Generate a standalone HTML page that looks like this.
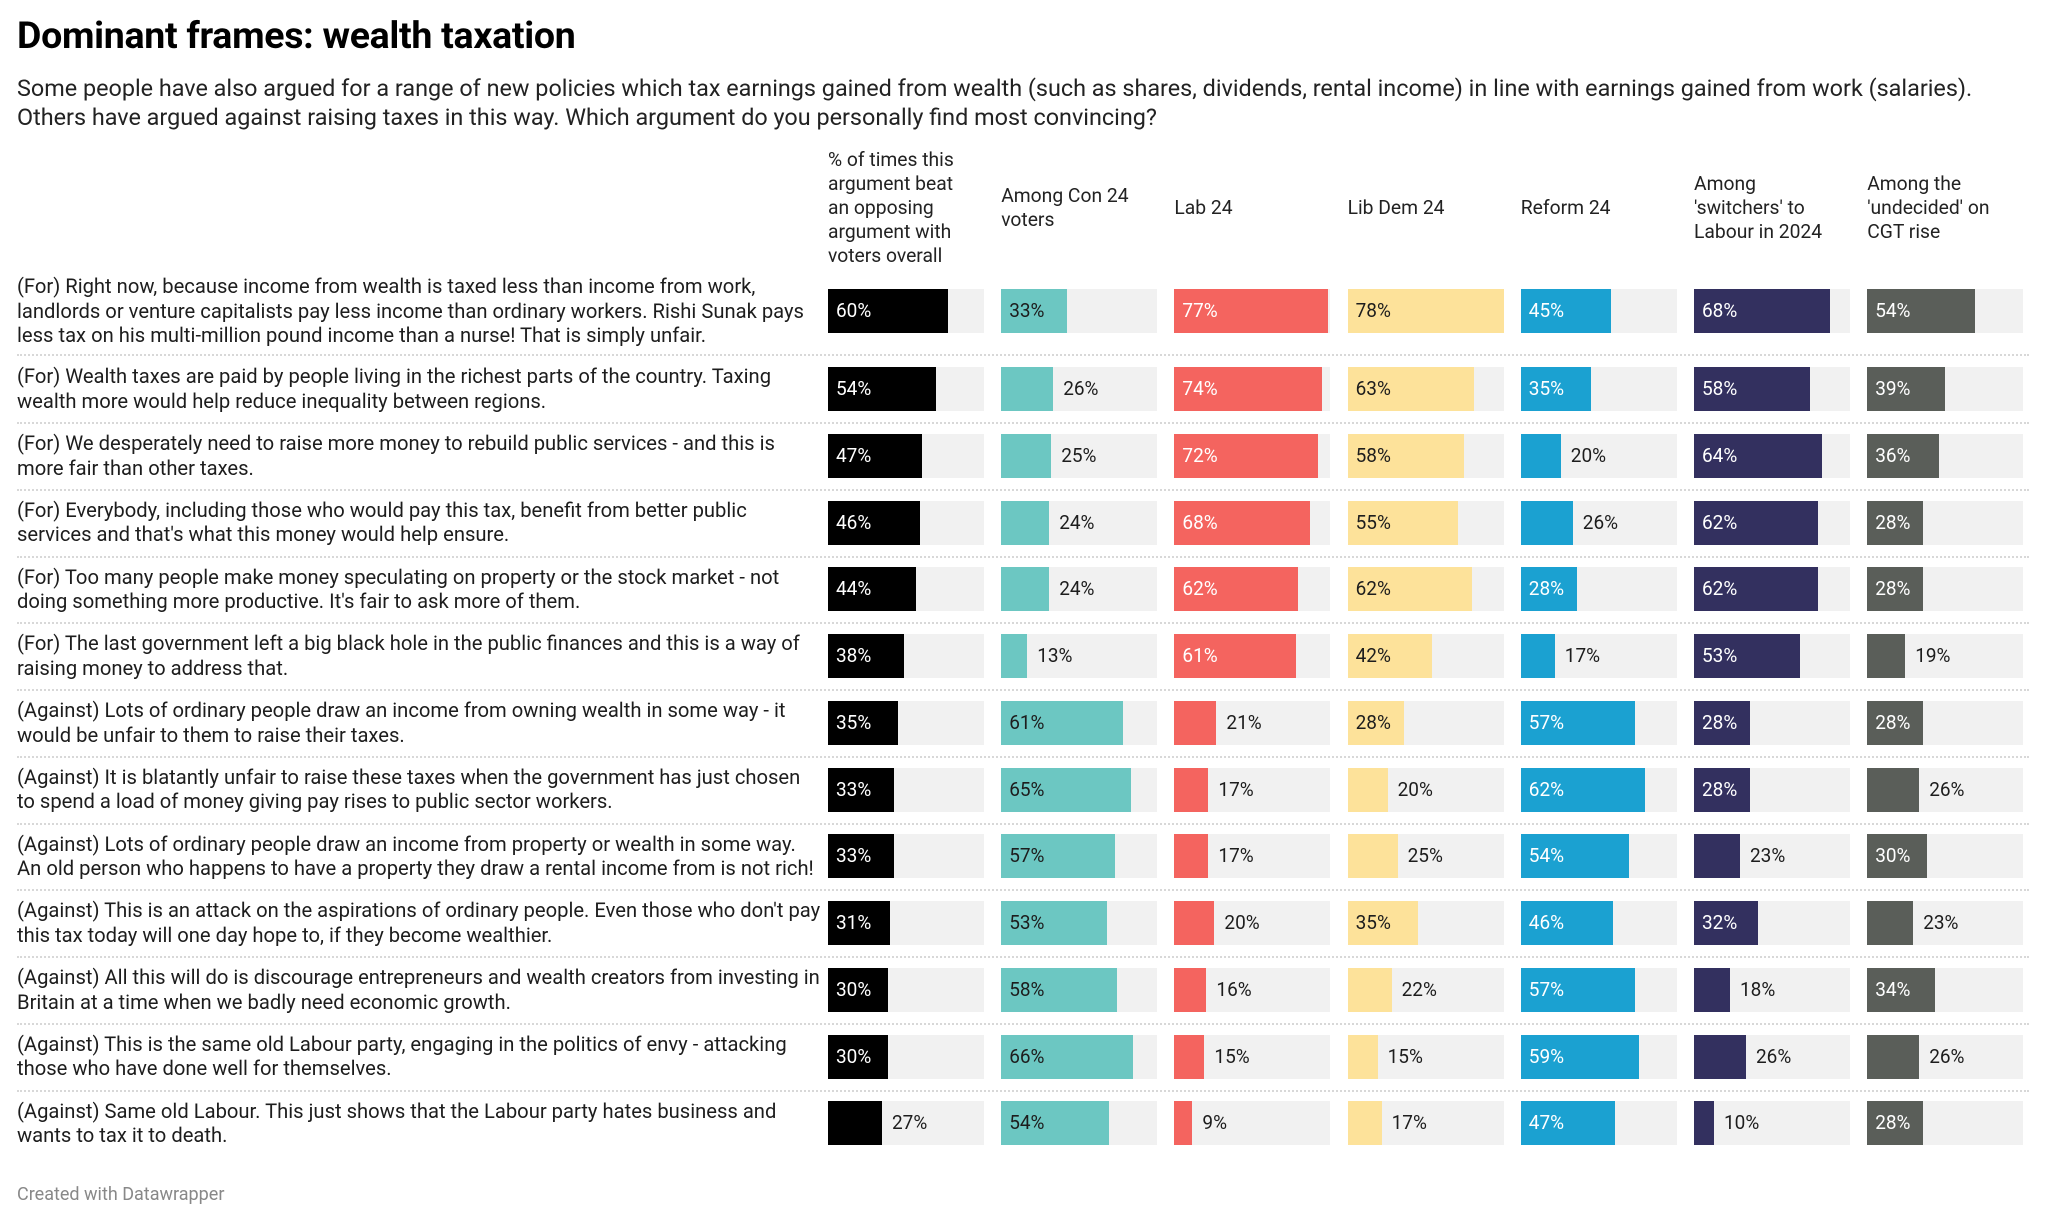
<!DOCTYPE html>
<html><head><meta charset="utf-8">
<style>
body{margin:0;width:2048px;height:1222px;background:#fff;font-family:"Roboto","Liberation Sans",sans-serif;color:#1d1d1d;position:relative;overflow:hidden}
.abs{position:absolute}
h1{position:absolute;left:17px;top:14px;margin:0;font-size:37.5px;font-weight:bold;color:#000;letter-spacing:-0.3px}
.sub{left:17px;top:74px;font-size:23.4px;line-height:29px;color:#222;white-space:nowrap}
.hdr{font-size:19.3px;line-height:24px;color:#222;white-space:nowrap}
.lbl{font-size:20.2px;line-height:24.6px;color:#1d1d1d;white-space:nowrap;left:17px}
.val{font-size:19px;line-height:20px}
.sep{left:17px;width:2012px;height:0;border-top:2px dotted #d8d8d8}
.foot{left:17px;top:1184px;font-size:18px;color:#888}
</style></head><body>
<h1>Dominant frames: wealth taxation</h1>
<div class="abs sub">Some people have also argued for a range of new policies which tax earnings gained from wealth (such as shares, dividends, rental income) in line with earnings gained from work (salaries).<br>Others have argued against raising taxes in this way. Which argument do you personally find most convincing?</div>
<div id="chart"></div>
<div class="abs foot">Created with Datawrapper</div>
<script>
const columns=["% of times this<br>argument beat<br>an opposing<br>argument with<br>voters overall","Among Con 24<br>voters","Lab 24","Lib Dem 24","Reform 24","Among<br>'switchers' to<br>Labour in 2024","Among the<br>'undecided' on<br>CGT rise"];
const colors=["#000000","#6cc7c2","#f4645f","#fde29a","#1ba1d1","#33305f","#5a5e59"];
const textIn=["#fff","#1d1d1d","#fff","#1d1d1d","#fff","#fff","#fff"];
const rowLabels=[
"(For) Right now, because income from wealth is taxed less than income from work,<br>landlords or venture capitalists pay less income than ordinary workers. Rishi Sunak pays<br>less tax on his multi-million pound income than a nurse! That is simply unfair.",
"(For) Wealth taxes are paid by people living in the richest parts of the country. Taxing<br>wealth more would help reduce inequality between regions.",
"(For) We desperately need to raise more money to rebuild public services - and this is<br>more fair than other taxes.",
"(For) Everybody, including those who would pay this tax, benefit from better public<br>services and that's what this money would help ensure.",
"(For) Too many people make money speculating on property or the stock market - not<br>doing something more productive. It's fair to ask more of them.",
"(For) The last government left a big black hole in the public finances and this is a way of<br>raising money to address that.",
"(Against) Lots of ordinary people draw an income from owning wealth in some way - it<br>would be unfair to them to raise their taxes.",
"(Against) It is blatantly unfair to raise these taxes when the government has just chosen<br>to spend a load of money giving pay rises to public sector workers.",
"(Against) Lots of ordinary people draw an income from property or wealth in some way.<br>An old person who happens to have a property they draw a rental income from is not rich!",
"(Against) This is an attack on the aspirations of ordinary people. Even those who don't pay<br>this tax today will one day hope to, if they become wealthier.",
"(Against) All this will do is discourage entrepreneurs and wealth creators from investing in<br>Britain at a time when we badly need economic growth.",
"(Against) This is the same old Labour party, engaging in the politics of envy - attacking<br>those who have done well for themselves.",
"(Against) Same old Labour. This just shows that the Labour party hates business and<br>wants to tax it to death."];
const overall=[60,54,47,46,44,38,35,33,33,31,30,30,27];
const con24=[33,26,25,24,24,13,61,65,57,53,58,66,54];
const lab24=[77,74,72,68,62,61,21,17,17,20,16,15,9];
const libdem24=[78,63,58,55,62,42,28,20,25,35,22,15,17];
const reform24=[45,35,20,26,28,17,57,62,54,46,57,59,47];
const switchers=[68,58,64,62,62,53,28,28,23,32,18,26,10];
const undecided=[54,39,36,28,28,19,28,26,30,23,34,26,28];
const series=[overall,con24,lab24,libdem24,reform24,switchers,undecided];

const colX=i=>828+i*173.2;
const trackW=156;
const maxV=78;
const xScale=v=>v/maxV*trackW;
const rowY=r=>r===0?311:389+(r-1)*66.75;
const barH=44;
const root=document.getElementById('chart');
function mk(cls,style,html){const d=document.createElement('div');d.className='abs '+cls;d.style.cssText=style;if(html!==undefined)d.innerHTML=html;root.appendChild(d);return d;}
columns.forEach((c,i)=>{
  const h=mk('hdr','left:'+colX(i)+'px;top:0px',c);
  
  
  const lines=c.split('<br>').length;
  h.style.top=(208-lines*24/2)+'px';
});
rowLabels.forEach((t,r)=>{
  const cy=rowY(r);
  const n=t.split('<br>').length;
  const l=mk('lbl','top:'+(cy-n*24.6/2)+'px',t);
  
  
  if(r<rowLabels.length-1){
    const s=mk('sep','top:'+(cy+(r===0?43:33))+'px');
    
    
  }
  series.forEach((arr,i)=>{
    const v=arr[r];
    const x=colX(i),top=cy-barH/2;
    const tr=mk('','left:'+x+'px;top:'+top+'px;width:'+trackW+'px;height:'+barH+'px;background:#f1f1f1');
    
    
    const w=xScale(v);
    const b=mk('','left:'+x+'px;top:'+top+'px;width:'+w+'px;height:'+barH+'px;background:'+colors[i]);
    
    
    const inside=v>=28;
    const lx=inside?x+8:x+w+10;
    const lab=mk('val','left:'+lx+'px;top:'+(cy-10)+'px;color:'+(inside?textIn[i]:'#1d1d1d'),v+'%');
    
    
  });
});
</script>
</body></html>
